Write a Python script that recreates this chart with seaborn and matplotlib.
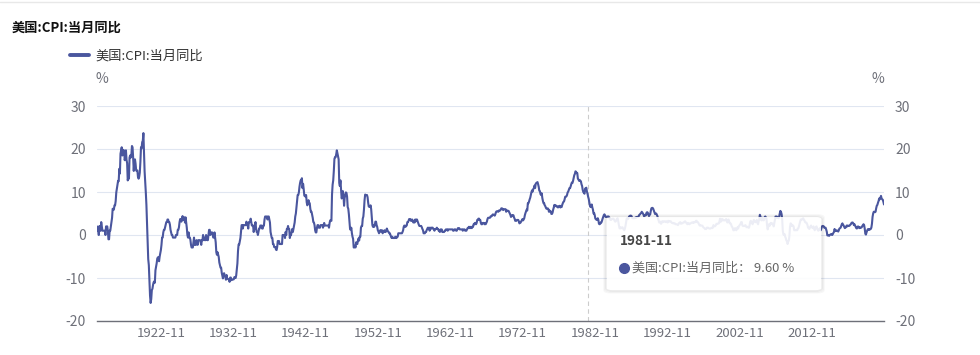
import numpy as np
import pandas as pd
import matplotlib
matplotlib.use('Agg')
import matplotlib.pyplot as plt
from matplotlib.patches import FancyBboxPatch
from matplotlib.lines import Line2D
import seaborn as sns

# 美国 CPI 当月同比 (%), 月度, 1914-01 起
cpi_1910s = [
    2.0, 1.0, 1.0, 0.0, 2.1, 1.0, 1.0, 3.0, 2.0, 1.0, 1.0, 1.0,
    1.0, 1.0, 0.0, 2.0, 2.0, 2.0, 1.0, -1.0, -1.0, 1.0, 1.0, 2.0,
    3.0, 4.0, 6.1, 6.0, 5.9, 6.9, 6.9, 7.9, 9.9, 10.8, 11.7, 12.6,
    12.5, 15.4, 14.3, 18.9, 19.6, 20.4, 18.5, 19.3, 19.8, 19.5, 17.4, 18.1,
    19.7, 17.5, 16.7, 12.7, 13.3, 13.1, 18.0, 18.5, 18.0, 18.5, 20.7, 20.4,
    17.9, 14.9, 17.1, 17.6, 16.6, 15.0, 14.9, 15.0, 13.5, 13.1, 13.5, 14.5,
]
cpi_1920s = [
    17.0, 20.4, 20.1, 21.6, 21.9, 23.7, 19.5, 14.8, 12.4, 9.9, 7.0, 2.6,
    -1.6, -5.6, -7.0, -10.8, -14.1, -15.8, -14.9, -12.8, -12.5, -11.6, -11.0, -10.8,
    -11.1, -8.2, -7.4, -6.6, -5.5, -5.2, -5.2, -6.1, -5.0, -4.3, -3.5, -2.3,
    -0.6, -0.6, 0.6, 1.2, 1.2, 1.8, 2.4, 3.0, 3.0, 3.6, 3.6, 3.0,
    3.0, 2.4, 1.2, 0.6, 0.0, 0.0, -0.6, -0.6, -0.6, -0.6, -0.6, 0.0,
    0.0, 0.0, 1.2, 1.2, 1.8, 3.0, 3.7, 3.7, 3.1, 3.7, 4.4, 3.5,
    3.5, 4.1, 2.9, 4.1, 2.9, 1.7, 0.0, -0.6, 0.6, -0.6, -0.6, -1.1,
    -2.3, -2.9, -2.9, -2.9, -1.7, -0.6, -2.3, -2.3, -2.3, -1.2, -1.7, -2.3,
    -1.2, -1.2, -1.2, -1.2, -1.7, -2.3, -1.2, -1.2, 0.0, -1.2, -0.6, -1.2,
    -1.2, 0.0, -0.6, -1.2, -1.2, 0.0, 1.2, 1.2, 0.0, 0.6, 0.6, 0.6,
]
cpi_1930s = [
    0.0, -0.6, -0.6, 0.6, -0.6, -1.7, -4.0, -4.6, -4.0, -4.6, -5.1, -6.4,
    -7.0, -7.6, -7.6, -8.8, -9.4, -10.1, -9.0, -8.9, -9.6, -9.7, -10.4, -9.3,
    -10.1, -10.2, -10.3, -10.3, -10.9, -9.9, -9.9, -10.5, -10.4, -10.4, -10.3, -10.3,
    -9.8, -9.9, -10.0, -9.4, -8.0, -6.6, -3.7, -2.2, -2.2, -1.5, -0.7, 0.8,
    2.3, 2.3, 1.5, 2.3, 2.3, 2.3, 2.3, 2.3, 3.1, 2.3, 2.3, 1.5,
    3.0, 3.0, 3.0, 3.8, 3.0, 2.2, 2.2, 2.2, 0.7, 1.5, 2.2, 3.0,
    1.5, 0.7, 0.7, 0.0, 0.7, 1.5, 1.5, 2.2, 2.2, 2.2, 1.5, 1.5,
    2.2, 2.2, 3.6, 4.3, 4.3, 4.3, 4.3, 3.6, 4.3, 4.3, 3.6, 2.9,
    0.7, 0.0, -0.7, -0.7, -2.1, -2.1, -2.8, -2.8, -2.8, -3.4, -3.5, -2.8,
    -1.4, -1.4, -1.4, -2.1, -2.1, -2.1, -2.1, -2.1, 0.0, 0.0, 0.0, 0.0,
]
cpi_1940s = [
    -0.7, 0.7, 0.0, 1.4, 1.4, 2.1, 1.4, 1.4, -0.7, 0.0, 0.0, 0.7,
    1.4, 0.7, 1.4, 2.2, 2.9, 4.3, 5.0, 6.5, 7.9, 9.3, 9.3, 9.9,
    11.2, 12.1, 12.7, 12.6, 13.2, 10.9, 11.9, 10.7, 9.2, 9.0, 9.0, 9.3,
    7.6, 6.9, 7.5, 8.1, 7.4, 7.4, 6.1, 5.4, 5.4, 4.7, 4.0, 3.0,
    2.9, 2.3, 1.1, 0.6, 0.6, 1.7, 2.3, 2.3, 1.7, 1.7, 1.7, 2.3,
    2.3, 2.3, 2.3, 1.7, 2.3, 2.8, 2.2, 2.2, 2.2, 2.2, 2.2, 2.2,
    2.2, 1.7, 2.8, 3.4, 3.3, 3.3, 9.4, 11.7, 12.7, 14.9, 17.7, 18.1,
    18.1, 18.8, 19.7, 19.0, 18.4, 17.6, 12.1, 11.4, 12.7, 10.6, 8.5, 8.8,
    10.2, 9.3, 6.8, 8.7, 9.1, 9.9, 9.8, 8.9, 6.5, 6.1, 4.8, 3.0,
    1.3, 1.3, 1.7, 0.4, -0.4, -0.9, -2.9, -2.9, -2.5, -2.9, -1.7, -2.1,
]
cpi_1950s = [
    -2.1, -1.3, -0.8, -1.3, -0.4, -0.4, 1.7, 2.1, 2.1, 3.8, 4.3, 5.9,
    8.1, 9.4, 9.3, 9.3, 9.3, 8.8, 7.5, 6.6, 6.6, 6.5, 6.9, 6.0,
    4.3, 2.3, 1.9, 2.3, 1.9, 2.3, 3.1, 3.1, 2.3, 1.9, 1.1, 0.8,
    0.4, 0.8, 1.1, 0.8, 1.1, 1.1, 0.4, 0.7, 0.7, 1.1, 0.7, 0.7,
    1.1, 1.5, 1.1, 0.8, 0.7, 0.4, 0.4, 0.0, -0.4, -0.7, -0.4, -0.7,
    -0.7, -0.7, -0.7, -0.4, -0.7, -0.7, -0.4, -0.4, 0.4, 0.4, 0.4, 0.4,
    0.4, 0.4, 0.4, 0.7, 1.1, 1.9, 2.2, 1.9, 1.9, 2.2, 2.2, 3.0,
    3.0, 3.3, 3.7, 3.7, 3.7, 3.3, 3.3, 3.6, 3.3, 2.9, 3.3, 2.9,
    3.6, 3.2, 3.6, 3.6, 3.2, 2.8, 2.4, 2.1, 2.1, 2.1, 2.1, 1.8,
    1.4, 1.1, 0.4, 0.4, 0.4, 0.7, 0.7, 1.1, 1.4, 1.7, 1.4, 1.7,
]
cpi_1960s = [
    1.0, 1.7, 1.4, 1.7, 1.7, 1.7, 1.4, 1.4, 1.0, 1.4, 1.4, 1.4,
    1.7, 1.4, 1.4, 1.0, 1.0, 0.7, 1.3, 1.0, 1.3, 0.7, 0.7, 0.7,
    0.7, 1.0, 1.0, 1.3, 1.3, 1.3, 1.0, 1.3, 1.3, 1.3, 1.3, 1.3,
    1.3, 1.3, 1.3, 1.0, 1.0, 1.3, 1.3, 1.3, 1.0, 1.0, 1.3, 1.6,
    1.6, 1.6, 1.3, 1.3, 1.3, 1.3, 1.3, 1.0, 1.3, 1.3, 1.3, 1.0,
    1.0, 1.0, 1.3, 1.6, 1.6, 1.9, 1.6, 1.9, 1.6, 1.9, 1.6, 1.9,
    1.9, 2.5, 2.5, 2.8, 2.8, 2.5, 2.8, 3.5, 3.5, 3.8, 3.8, 3.5,
    3.5, 2.8, 2.5, 2.5, 2.8, 2.8, 2.8, 2.5, 2.8, 2.5, 2.8, 3.1,
    3.7, 4.0, 4.0, 4.0, 4.0, 4.3, 4.3, 4.5, 4.5, 4.8, 4.7, 4.7,
    4.5, 4.8, 5.3, 5.5, 5.5, 5.5, 5.4, 5.7, 5.7, 5.7, 5.9, 6.2,
]
cpi_1970s = [
    6.2, 6.1, 5.8, 6.0, 6.0, 6.0, 6.0, 5.4, 5.7, 5.7, 5.6, 5.6,
    5.3, 5.0, 4.7, 4.2, 4.4, 4.6, 4.4, 4.6, 4.1, 3.8, 3.3, 3.3,
    3.3, 3.5, 3.5, 3.5, 3.2, 2.7, 2.9, 2.9, 3.2, 3.4, 3.7, 3.4,
    3.6, 3.9, 4.6, 5.1, 5.5, 5.9, 5.7, 7.4, 7.4, 7.8, 8.3, 8.7,
    9.4, 10.0, 10.4, 10.1, 10.7, 10.9, 11.5, 10.9, 11.9, 12.1, 12.2, 12.3,
    11.8, 11.2, 10.3, 10.2, 9.5, 9.3, 9.7, 8.6, 7.9, 7.4, 7.4, 6.9,
    6.7, 6.3, 6.1, 6.1, 6.2, 6.0, 5.4, 5.7, 5.5, 5.5, 4.9, 4.9,
    5.2, 5.9, 6.4, 7.0, 6.7, 6.9, 6.8, 6.6, 6.6, 6.4, 6.7, 6.7,
    6.8, 6.4, 6.6, 6.5, 7.0, 7.4, 7.7, 7.8, 8.3, 8.9, 8.9, 9.0,
    9.3, 9.9, 10.1, 10.5, 10.9, 10.9, 11.3, 11.8, 12.2, 12.1, 12.6, 13.3,
]
cpi_1980s = [
    13.9, 14.2, 14.8, 14.7, 14.4, 14.4, 13.1, 12.9, 12.6, 12.8, 12.6, 12.5,
    11.8, 11.4, 10.5, 10.0, 9.8, 9.6, 10.8, 10.8, 11.0, 10.1, 9.6, 8.9,
    8.4, 7.6, 6.8, 6.5, 6.7, 7.1, 6.4, 5.9, 5.0, 5.1, 4.6, 3.8,
    3.7, 3.5, 3.6, 3.9, 3.5, 2.6, 2.5, 2.6, 2.9, 2.9, 3.3, 3.8,
    4.2, 4.6, 4.8, 4.6, 4.2, 4.2, 4.2, 4.3, 4.3, 4.3, 4.1, 3.9,
    3.5, 3.5, 3.7, 3.7, 3.8, 3.8, 3.6, 3.3, 3.1, 3.2, 3.5, 3.8,
    3.9, 3.1, 2.2, 1.6, 1.5, 1.8, 1.6, 1.6, 1.8, 1.5, 1.3, 1.1,
    1.5, 2.1, 3.0, 3.8, 3.9, 3.7, 3.9, 4.3, 4.4, 4.5, 4.5, 4.4,
    4.0, 3.9, 3.9, 3.9, 3.9, 4.0, 4.1, 4.0, 4.2, 4.2, 4.2, 4.4,
    4.7, 4.8, 5.0, 5.1, 5.4, 5.2, 5.0, 4.7, 4.3, 4.5, 4.7, 4.6,
]
cpi_1990s = [
    5.2, 5.3, 5.2, 4.7, 4.4, 4.7, 4.8, 5.6, 6.2, 6.3, 6.3, 6.1,
    5.7, 5.3, 4.9, 4.9, 5.0, 4.7, 4.4, 3.8, 3.4, 2.9, 3.0, 3.1,
    2.6, 2.8, 3.2, 3.2, 3.0, 3.1, 3.2, 3.1, 3.0, 3.2, 3.0, 2.9,
    3.3, 3.2, 3.1, 3.2, 3.2, 3.0, 2.8, 2.8, 2.7, 2.8, 2.7, 2.7,
    2.5, 2.5, 2.5, 2.4, 2.3, 2.5, 2.8, 2.9, 3.0, 2.6, 2.7, 2.7,
    2.8, 2.9, 2.9, 3.1, 3.2, 3.0, 2.8, 2.6, 2.5, 2.8, 2.6, 2.5,
    2.7, 2.7, 2.8, 2.9, 2.9, 2.8, 3.0, 2.9, 3.0, 3.0, 3.3, 3.3,
    3.0, 3.0, 2.8, 2.5, 2.2, 2.3, 2.2, 2.2, 2.2, 2.1, 1.8, 1.7,
    1.6, 1.4, 1.4, 1.4, 1.7, 1.7, 1.7, 1.6, 1.5, 1.5, 1.5, 1.6,
    1.7, 1.6, 1.7, 2.3, 2.1, 2.0, 2.1, 2.3, 2.6, 2.6, 2.6, 2.7,
]
cpi_2000s = [
    2.7, 3.2, 3.8, 3.1, 3.2, 3.7, 3.7, 3.4, 3.5, 3.4, 3.4, 3.4,
    3.7, 3.5, 2.9, 3.3, 3.6, 3.2, 2.7, 2.7, 2.6, 2.1, 1.9, 1.6,
    1.1, 1.1, 1.5, 1.6, 1.2, 1.1, 1.5, 1.8, 1.5, 2.0, 2.2, 2.4,
    2.6, 3.0, 3.0, 2.2, 2.1, 2.1, 2.1, 2.2, 2.3, 2.0, 1.8, 1.9,
    1.9, 1.7, 1.7, 2.3, 3.1, 3.3, 3.0, 2.7, 2.5, 3.2, 3.5, 3.3,
    3.0, 3.0, 3.1, 3.5, 2.8, 2.5, 3.2, 3.6, 4.7, 4.3, 3.5, 3.4,
    4.0, 3.6, 3.4, 3.5, 4.2, 4.3, 4.1, 3.8, 2.1, 1.3, 2.0, 2.5,
    2.1, 2.4, 2.8, 2.6, 2.7, 2.7, 2.4, 2.0, 2.8, 3.5, 4.3, 4.1,
    4.3, 4.0, 4.0, 3.9, 4.2, 5.0, 5.6, 5.4, 4.9, 3.7, 1.1, 0.1,
    0.0, 0.2, -0.4, -0.7, -1.3, -1.4, -2.1, -1.5, -1.3, -0.2, 1.8, 2.7,
]
cpi_2010s = [
    2.6, 2.1, 2.3, 2.2, 2.0, 1.1, 1.2, 1.1, 1.1, 1.2, 1.1, 1.5,
    1.6, 2.1, 2.7, 3.2, 3.6, 3.6, 3.6, 3.8, 3.9, 3.5, 3.4, 3.0,
    2.9, 2.9, 2.7, 2.3, 1.7, 1.7, 1.4, 1.7, 2.0, 2.2, 1.8, 1.7,
    1.6, 2.0, 1.5, 1.1, 1.4, 1.8, 2.0, 1.5, 1.2, 1.0, 1.2, 1.5,
    1.6, 1.1, 1.5, 2.0, 2.1, 2.1, 2.0, 1.7, 1.7, 1.7, 1.3, 0.8,
    -0.1, 0.0, -0.1, -0.2, 0.0, 0.1, 0.2, 0.2, 0.0, 0.2, 0.5, 0.7,
    1.4, 1.0, 0.9, 1.1, 1.0, 1.0, 0.8, 1.1, 1.5, 1.6, 1.7, 2.1,
    2.5, 2.7, 2.4, 2.2, 1.9, 1.6, 1.7, 1.9, 2.2, 2.0, 2.2, 2.1,
    2.1, 2.2, 2.4, 2.5, 2.8, 2.9, 2.9, 2.7, 2.3, 2.5, 2.2, 1.9,
    1.6, 1.5, 1.9, 2.0, 1.8, 1.6, 1.8, 1.7, 1.7, 1.8, 2.1, 2.3,
]
cpi_2020s = [
    2.5, 2.3, 1.5, 0.3, 0.1, 0.6, 1.0, 1.3, 1.4, 1.2, 1.2, 1.4,
    1.4, 1.7, 2.6, 4.2, 5.0, 5.4, 5.4, 5.3, 5.4, 6.2, 6.8, 7.0,
    7.5, 7.9, 8.5, 8.3, 8.6, 9.1, 8.5, 8.3, 8.2, 7.7, 7.1,
]

series_name = '美国:CPI:当月同比'
tick_months = ['1922-11', '1932-11', '1942-11', '1952-11', '1962-11',
               '1972-11', '1982-11', '1992-11', '2002-11', '2012-11']
y_ticks = [-20, -10, 0, 10, 20, 30]
hover_month = '1981-11'

values = (cpi_1910s + cpi_1920s + cpi_1930s + cpi_1940s + cpi_1950s + cpi_1960s
          + cpi_1970s + cpi_1980s + cpi_1990s + cpi_2000s + cpi_2010s + cpi_2020s)
months = pd.period_range('1914-01', periods=len(values), freq='M').strftime('%Y-%m')
df = pd.DataFrame({'month': months, 'idx': np.arange(len(values)), 'value': values})

line_color = '#4a569e'
axis_gray = '#6e7079'

sns.set_style('white')
plt.rcParams['font.family'] = ['Noto Sans CJK SC', 'DejaVu Sans']

fig = plt.figure(figsize=(9.8, 3.55), dpi=100)
ax = fig.add_axes([97 / 980, 1 - 321 / 355, 787 / 980, 215 / 355])

# dashed hover line
hover_idx = int(df.index[df['month'] == hover_month][0])
ax.axvline(hover_idx, color='#cccccc', lw=0.8, ls=(0, (4, 3)), zorder=1)

sns.lineplot(data=df, x='idx', y='value', color=line_color, lw=1.5,
             label=series_name, ax=ax, zorder=3)

ax.set_xlim(0, len(values) - 1)
ax.set_ylim(-20, 30)
ax.set_yticks(y_ticks)
ax.set_yticklabels([str(v) for v in y_ticks])
tick_pos = [int(df.index[df['month'] == m][0]) for m in tick_months]
ax.set_xticks(tick_pos)
ax.set_xticklabels(tick_months)
ax.set_xlabel('')
ax.set_ylabel('')
ax.grid(axis='y', color='#e0e6f1', lw=0.8)
ax.grid(axis='x', visible=False)
for s in ['top', 'left', 'right']:
    ax.spines[s].set_visible(False)
ax.spines['bottom'].set_color(axis_gray)
ax.spines['bottom'].set_linewidth(1.0)
ax.tick_params(axis='y', length=0, pad=8, labelsize=10, labelcolor=axis_gray,
               labelleft=True, labelright=True)
ax.tick_params(axis='x', length=0, pad=4, labelsize=9.5, labelcolor=axis_gray)

# legend
ax.legend(loc='center left', bbox_to_anchor=(70 / 980, 1 - 56 / 355),
          bbox_transform=fig.transFigure, frameon=False, borderpad=0,
          borderaxespad=0, handlelength=1.45, handletextpad=0.45,
          prop={'size': 9.5}, labelcolor='#333333')
leg = ax.get_legend()
leg.get_lines()[0].set_linewidth(2.8)

# titles and units
fig.text(12 / 980, 1 - 28 / 355, series_name, fontsize=9.5, weight='bold',
         color='#111111', va='center', ha='left')
fig.text(102 / 980, 1 - 79 / 355, '%', fontsize=10, color=axis_gray, va='center', ha='center')
fig.text(878 / 980, 1 - 79 / 355, '%', fontsize=10, color=axis_gray, va='center', ha='center')
fig.add_artist(Line2D([0, 1], [1 - 1.5 / 355, 1 - 1.5 / 355], transform=fig.transFigure,
                      color='#e8e8e8', lw=1))

# tooltip with soft shadow rings around a white box
hover_val = df.loc[hover_idx, 'value']
for grow, a in [(3.0, 0.03), (2.0, 0.05), (1.0, 0.08)]:
    fig.add_artist(FancyBboxPatch(((607 - grow) / 980, 1 - (289 + grow + 0.8) / 355),
                                  (214 + 2 * grow) / 980, (72 + 2 * grow) / 355,
                                  boxstyle='round,pad=0,rounding_size=0.007',
                                  transform=fig.transFigure, facecolor='none',
                                  edgecolor=(0, 0, 0, a), lw=1.0, zorder=9))
fig.add_artist(FancyBboxPatch((607 / 980, 1 - 289 / 355), 214 / 980, 72 / 355,
                              boxstyle='round,pad=0,rounding_size=0.006',
                              transform=fig.transFigure, facecolor='white', alpha=0.9,
                              edgecolor='none', zorder=10))
fig.text(620 / 980, 1 - 241 / 355, hover_month, fontsize=9.8, weight='bold',
         color='#464646', va='center', ha='left', zorder=11)
fig.add_artist(Line2D([624 / 980], [1 - 268 / 355], transform=fig.transFigure,
                      marker='o', ms=7, color=line_color, lw=0, zorder=11))
fig.text(632 / 980, 1 - 268 / 355, f'{series_name}： {hover_val:.2f} %', fontsize=9.4,
         color='#666666', va='center', ha='left', zorder=11)

fig.savefig('out.png', dpi=100)
